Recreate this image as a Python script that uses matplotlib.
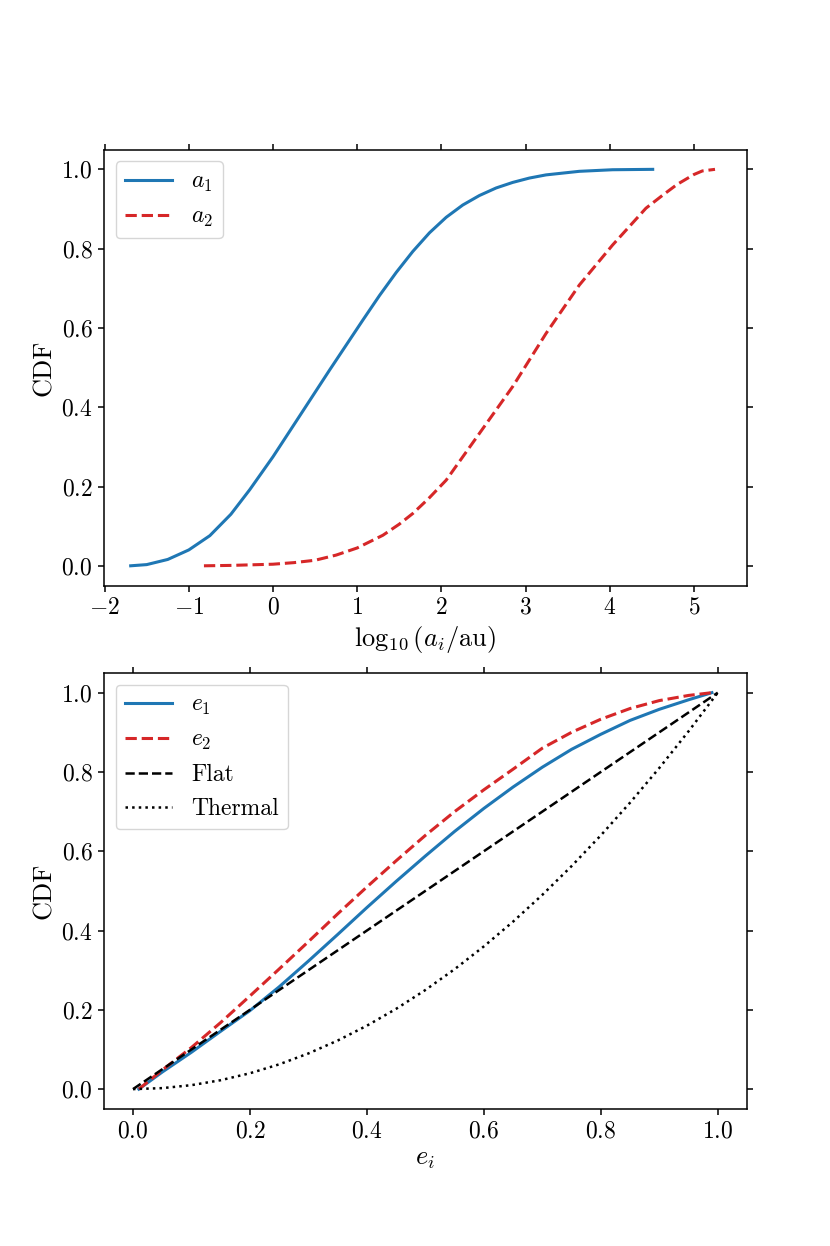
import matplotlib
matplotlib.use("Agg")
import matplotlib.pyplot as plt

plt.rcParams['font.family'] = 'serif'
plt.rcParams['font.serif'] = ['cmr10']
plt.rcParams['mathtext.fontset'] = 'cm'
plt.rcParams['axes.formatter.use_mathtext'] = True
plt.rcParams['font.size'] = 17
plt.rcParams['axes.labelsize'] = 19
plt.rcParams['legend.fontsize'] = 17
plt.rcParams['axes.unicode_minus'] = True

# ---- data: semi-major axes ----
a1_x = [-1.69, -1.5, -1.25, -1.0, -0.75, -0.5, -0.276, 0.0, 0.277, 0.673, 1.068, 1.266,
        1.464, 1.661, 1.859, 2.057, 2.254, 2.452, 2.65, 2.847, 3.045, 3.243, 3.638, 4.033, 4.51]
a1_c = [0.0, 0.003, 0.016, 0.04, 0.076, 0.13, 0.192, 0.275, 0.365, 0.494, 0.620, 0.682,
        0.74, 0.793, 0.840, 0.879, 0.910, 0.934, 0.953, 0.967, 0.978, 0.986, 0.995, 0.999, 1.0]
a2_x = [-0.82, -0.5, 0.0, 0.25, 0.5, 0.75, 1.0, 1.305, 1.5, 1.661, 1.85, 2.057, 2.452, 2.847,
        3.243, 3.638, 4.033, 4.43, 4.63, 4.8, 5.0, 5.1, 5.25]
a2_c = [0.0, 0.001, 0.004, 0.008, 0.014, 0.027, 0.045, 0.077, 0.105, 0.132, 0.17, 0.216, 0.334,
        0.452, 0.586, 0.708, 0.809, 0.902, 0.935, 0.962, 0.987, 0.996, 1.0]

# ---- data: eccentricities ----
e1_x = [0.01, 0.05, 0.1, 0.15, 0.2, 0.25, 0.3, 0.35, 0.4, 0.45, 0.5, 0.55, 0.6, 0.65,
        0.7, 0.75, 0.8, 0.85, 0.9, 0.95, 0.99]
e1_c = [0.0, 0.043, 0.093, 0.146, 0.198, 0.258, 0.323, 0.39, 0.458, 0.524, 0.588, 0.65,
        0.708, 0.762, 0.812, 0.857, 0.895, 0.93, 0.958, 0.982, 1.0]
e2_x = [0.01, 0.05, 0.1, 0.15, 0.2, 0.25, 0.3, 0.35, 0.4, 0.45, 0.5, 0.55, 0.6, 0.65,
        0.7, 0.75, 0.8, 0.85, 0.9, 0.95, 0.99]
e2_c = [0.0, 0.048, 0.105, 0.168, 0.235, 0.303, 0.372, 0.442, 0.51, 0.576, 0.64, 0.7,
        0.755, 0.807, 0.86, 0.9, 0.933, 0.96, 0.98, 0.993, 1.0]
flat_x = [0.0, 1.0]
flat_c = [0.0, 1.0]
thermal_x = [0.0, 0.05, 0.1, 0.15, 0.2, 0.25, 0.3, 0.35, 0.4, 0.45, 0.5, 0.55, 0.6, 0.65,
             0.7, 0.75, 0.8, 0.85, 0.9, 0.95, 1.0]
thermal_c = [0.0, 0.0025, 0.01, 0.0225, 0.04, 0.0625, 0.09, 0.1225, 0.16, 0.2025, 0.25,
             0.3025, 0.36, 0.4225, 0.49, 0.5625, 0.64, 0.7225, 0.81, 0.9025, 1.0]

blue = '#1f77b4'
red = '#d62728'
lw = 2.2

fig, (ax1, ax2) = plt.subplots(2, 1, figsize=(8.3, 12.46), dpi=100)

ax1.plot(a1_x, a1_c, color=blue, lw=lw, label=r'$a_1$')
ax1.plot(a2_x, a2_c, color=red, lw=lw, ls='--', label=r'$a_2$')
ax1.set_xlim(-2.01, 5.63)
ax1.set_ylim(-0.05, 1.05)
ax1.set_xlabel(r'$\log_{10}(a_i/{\rm au})$')
ax1.set_ylabel('CDF')
ax1.legend(loc='upper left')

ax2.plot(e1_x, e1_c, color=blue, lw=lw, label=r'$e_1$')
ax2.plot(e2_x, e2_c, color=red, lw=lw, ls='--', label=r'$e_2$')
ax2.plot(flat_x, flat_c, color='black', lw=1.8, ls='--', label='Flat')
ax2.plot(thermal_x, thermal_c, color='black', lw=1.8, ls=':', label='Thermal')
ax2.set_xlim(-0.05, 1.05)
ax2.set_ylim(-0.05, 1.05)
ax2.set_xlabel(r'$e_i$')
ax2.set_ylabel('CDF')
ax2.legend(loc='upper left')

for ax in (ax1, ax2):
    ax.tick_params(direction='out', top=True, right=True, length=4.5, width=1.1)
    for s in ax.spines.values():
        s.set_linewidth(1.1)

fig.savefig('out.png', dpi=100)
